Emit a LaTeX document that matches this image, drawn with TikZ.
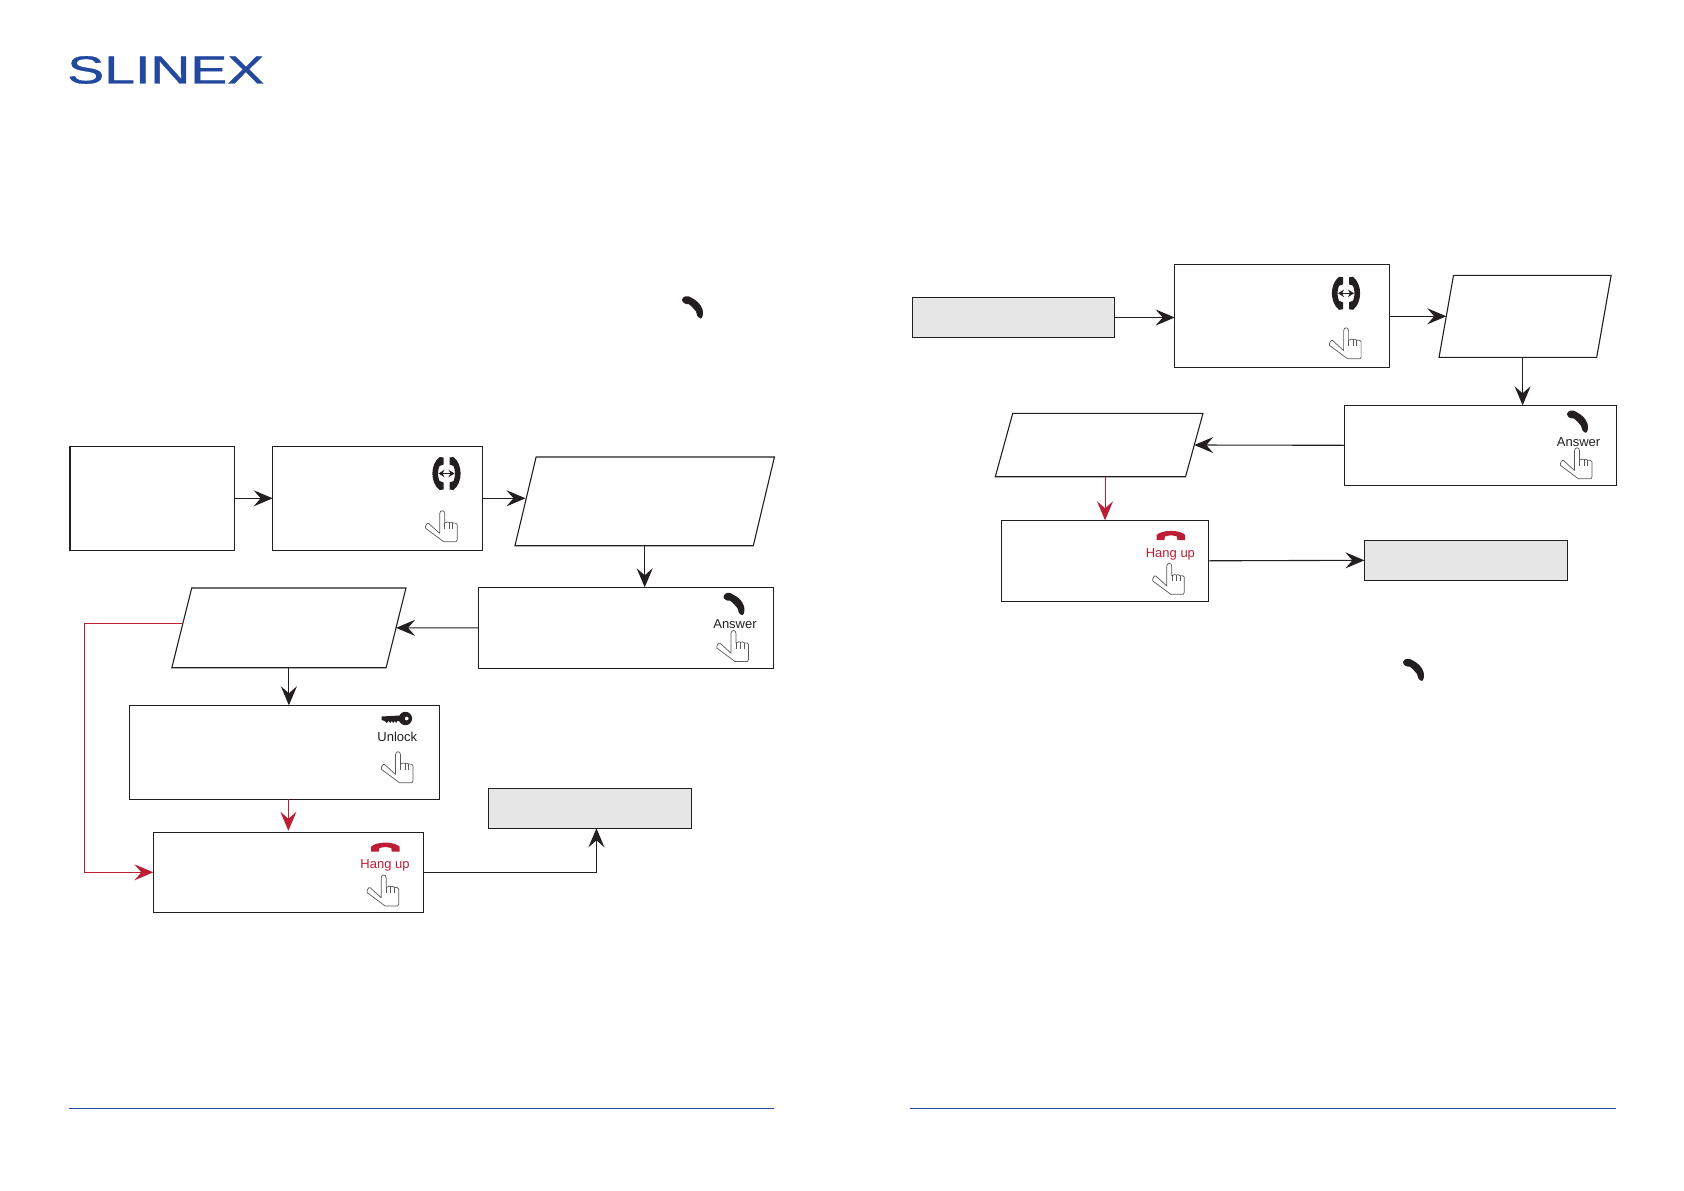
\documentclass[tikz,border=0pt]{standalone}
\usepackage{fontspec}
\setmainfont{Liberation Sans}
\newfontfamily\logofont[FakeBold=0.9]{Liberation Sans}
\usetikzlibrary{arrows.meta,shapes.geometric}
\definecolor{ink}{HTML}{231F20}
\definecolor{alarm}{HTML}{BE1E35}
\definecolor{panel}{HTML}{E6E6E6}
\definecolor{brand}{HTML}{23499E}
\tikzset{
  framebox/.style={draw=ink,line width=1.1pt,inner sep=0pt,outer sep=0pt},
  greybox/.style={framebox,fill=panel},
  slantbox/.style={framebox,trapezium,trapezium left angle=#1,trapezium right angle=180-#1},
  flow/.style={draw=ink,line width=1.1pt,->},
  redflow/.style={draw=alarm,line width=1.1pt,->},
  caption/.style={inner sep=0pt,font=\fontsize{13}{13}\selectfont,text=ink},
  handicon/.pic={
    \draw[line width=0.7pt,draw=ink!75,fill=white,line join=round]
      (-2,-13) .. controls (-2,-17) and (3,-17) .. (3,-13) -- (3,-3.5)
      .. controls (5,-5) and (6.5,-5) .. (7.5,-4.3) .. controls (9,-5) and (10,-4.5) .. (11,-3.7)
      .. controls (13,-4) and (15.5,-3.5) .. (15.5,-2) -- (15.5,13) -- (14.5,15) -- (2,15)
      -- (-16,1.7) .. controls (-17,0) and (-14.5,-4.5) .. (-13,-3.3) -- (-2,6.7) -- cycle;
    \draw[line width=0.6pt,draw=ink!75] (7.5,-4.3) -- (7.5,2) (11,-3.7) -- (11,2) (3,-3.5) -- (3,2);
  },
  phoneicon/.pic={
    \fill[ink] (-11,-7.5) .. controls (-10,-11) and (-5,-12) .. (-2,-9.5)
      .. controls (4,-6.5) and (8,-2.5) .. (9.5,2.5) .. controls (10.5,6) and (10,10) .. (8,11.5)
      .. controls (5,11) and (3,7.5) .. (3,4.5) .. controls (1,2) and (-2,-1.5) .. (-4.5,-3)
      .. controls (-7,-2.5) and (-11,-4) .. (-11,-7.5) -- cycle;
  },
  hangicon/.pic={
    \fill[alarm] (-14.3,5) -- (-14.3,0) .. controls (-9,-5.5) and (9,-5.5) .. (14.3,0) -- (14.3,5)
      -- (6.5,5) -- (6,1.5) .. controls (2,0) and (-2,0) .. (-6,1.5) -- (-6.5,5) -- cycle;
  },
  keyicon/.pic={
    \fill[ink] (-15,-2) -- (3,-3) -- (3,2.5) -- (0.5,2.5) -- (-0.5,4.5) -- (-2,2.5) -- (-3.5,4.5) -- (-5,2.5)
      -- (-6.5,4.5) -- (-8,2.5) -- (-10,4.5) -- (-12,2.5) -- (-15,1.5) -- cycle;
    \fill[ink,even odd rule] (8.7,0) circle (6.7) (10,0) circle (2);
  },
  swapicon/.pic={
    \foreach \side in {1,-1}
      \fill[ink,xscale=\side] (-7,-16.5) -- (-3,-16) -- (-3,-9) -- (-7,-7.5)
        .. controls (-9,-3) and (-9,3) .. (-7,7.5) -- (-3,9) -- (-3,16) -- (-7,16.5)
        .. controls (-16.5,9) and (-16.5,-9) .. (-7,-16.5) -- cycle;
    \draw[ink,line width=1.6pt,{Stealth[length=6pt,width=7.5pt]}-{Stealth[length=6pt,width=7.5pt]}] (-8,0) -- (8,0);
  }
}
\begin{document}
\begin{tikzpicture}[x=1pt,y=-1pt,>={Stealth[length=19pt,width=16pt,inset=7pt]}]
  \useasboundingbox (0,0) rectangle (1684,1191);

  \node[text=brand,xscale=1.42,inner sep=0pt,font=\logofont\fontsize{39}{39}\selectfont] (logo) at (165.8,70) {SLINEX};

  \node[framebox,minimum width=164.4pt,minimum height=104pt] (A) at (152.2,498.3) {};
  \node[framebox,minimum width=209.9pt,minimum height=104pt] (B) at (377.65,498.3) {};
  \node[slantbox=76.6,inner xsep=108.6pt,inner ysep=44.35pt] (P1) at (644.7,501.35) {};
  \node[framebox,minimum width=294.7pt,minimum height=81pt] (C) at (626.05,627.8) {};
  \node[slantbox=76,inner xsep=97.2pt,inner ysep=39.85pt] (P2) at (288.9,627.85) {};
  \node[framebox,minimum width=309.7pt,minimum height=94pt] (E) at (284.55,752.3) {};
  \node[framebox,minimum width=270pt,minimum height=80pt] (D) at (288.4,872.3) {};
  \node[greybox,minimum width=203.1pt,minimum height=40pt] (F) at (589.95,808.3) {};
  \coordinate (bend) at (84.6,872.3);

  \node[greybox,minimum width=202.4pt,minimum height=40.4pt] (G) at (1013.5,317.5) {};
  \node[framebox,minimum width=214.7pt,minimum height=103pt] (H) at (1282.05,315.8) {};
  \node[slantbox=80,inner xsep=71.6pt,inner ysep=41pt] (P3) at (1525.1,316.3) {};
  \node[framebox,minimum width=271.9pt,minimum height=80pt] (I) at (1480.45,445.3) {};
  \node[slantbox=74.6,inner xsep=86.4pt,inner ysep=31.7pt] (P4) at (1099.15,445) {};
  \node[framebox,minimum width=207.1pt,minimum height=81pt] (J) at (1105.05,560.8) {};
  \node[greybox,minimum width=202.9pt,minimum height=40pt] (K) at (1465.85,560.3) {};

  \draw[flow] (A.east) -- (B.west);
  \draw[flow] (B.east) -- (B.east -| P1.west);
  \draw[flow] (P1.south) -- (P1.south |- C.north);
  \draw[flow] (C.west) -- (P2.east);
  \draw[flow] (P2.south) -- (P2.south |- E.north);
  \draw[redflow] (D.north |- E.south) -- ([yshift=1.5pt]D.north);
  \draw[redflow] ([yshift=4.5pt]P2.west) -| (bend) -- (D.west);
  \draw[flow] (D.east) -| ([xshift=6.5pt]F.south);

  \draw[flow] (G.east) -- (G.east -| H.west);
  \draw[flow] (H.east |- P3.west) -- (P3.west);
  \draw[flow] ([xshift=-2.5pt]P3.south) -- ([xshift=-2.5pt]P3.south |- I.north);
  \draw[flow] (I.west) -- (P4.east);
  \draw[redflow] (J.north |- P4.south) -- (J.north);
  \draw[flow] (J.east) -- (K.west);

  \pic at (446.5,473.5) {swapicon};
  \pic at (441.7,526.7) {handicon};
  \pic at (734.5,603.7) {phoneicon};
  \node[caption] (answerC) at (735,624) {Answer};
  \pic at (733,646.5) {handicon};
  \pic at (396.7,718.5) {keyicon};
  \node[caption] (unlockE) at (397.3,736.7) {Unlock};
  \pic at (397.5,767.7) {handicon};
  \pic at (385.3,846.7) {hangicon};
  \node[caption,text=alarm] (hangD) at (385,865) {Hang up};
  \pic at (383.2,891) {handicon};

  \pic at (1346,293.3) {swapicon};
  \pic at (1345.6,343.8) {handicon};
  \pic at (1578,421.3) {phoneicon};
  \node[caption] (answerI) at (1578.6,441.7) {Answer};
  \pic at (1576.5,463.8) {handicon};
  \pic at (1170.9,535) {hangicon};
  \node[caption,text=alarm] (hangJ) at (1170.4,554.5) {Hang up};
  \pic at (1168.8,579.3) {handicon};

  \pic at (693,307) {phoneicon};
  \pic at (1414,669.5) {phoneicon};

  \draw[brand,line width=0.8pt] (68.7,1108.4) -- (774.3,1108.4);
  \draw[brand,line width=0.8pt] (909.7,1108.4) -- (1616.4,1108.4);
\end{tikzpicture}
\end{document}
